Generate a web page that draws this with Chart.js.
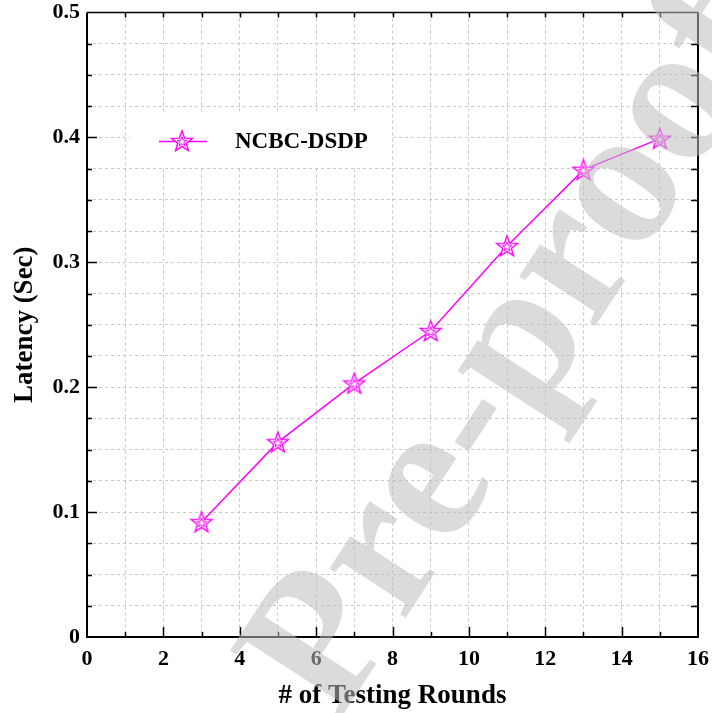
<!DOCTYPE html>
<html>
<head>
<meta charset="utf-8">
<script src="https://cdn.jsdelivr.net/npm/chart.js@4.4.0/dist/chart.umd.min.js"></script>
<style>
  html, body { margin: 0; padding: 0; background: #fff; }
  #wrap { width: 712px; height: 713px; }
</style>
</head>
<body>
<div id="wrap"><canvas id="latencyChart" width="712" height="713"></canvas></div>
<script>
// latency per number of testing rounds
const rounds = [3, 5, 7, 9, 11, 13, 15];
const latency = [0.092, 0.156, 0.203, 0.245, 0.313, 0.374, 0.399];
const seriesName = "NCBC-DSDP";

const xTickValues = [0, 2, 4, 6, 8, 10, 12, 14, 16];
const xTickLabels = ["0", "2", "4", "6", "8", "10", "12", "14", "16"];
const yTickValues = [0, 0.1, 0.2, 0.3, 0.4, 0.5];
const yTickLabels = ["0", "0.1", "0.2", "0.3", "0.4", "0.5"];

const xTitle = "# of Testing Rounds";
const yTitle = "Latency (Sec)";
const stamp = "Pre-proof";

const MAGENTA = "#ff00ff";
const SERIF = "'Liberation Serif', 'Times New Roman', serif";

function starPath(g, cx, cy, R, r) {
  g.beginPath();
  for (let i = 0; i < 10; i++) {
    const rad = i % 2 ? r : R;
    const a = -Math.PI / 2 + i * Math.PI / 5;
    const px = cx + rad * Math.cos(a), py = cy + rad * Math.sin(a);
    if (i) g.lineTo(px, py); else g.moveTo(px, py);
  }
  g.closePath();
}

// open star marker with a small star inside
function makeStar() {
  const c = document.createElement("canvas");
  c.width = c.height = 26;
  const g = c.getContext("2d");
  g.strokeStyle = MAGENTA;
  g.lineWidth = 1.4;
  starPath(g, 13, 13.8, 11, 4.5);
  g.fillStyle = "#fff";
  g.fill();
  g.stroke();
  starPath(g, 13, 13.8, 5, 2);
  g.lineWidth = 1;
  g.stroke();
  return c;
}
const starImg = makeStar();

function findLabel(values, labels, v) {
  const i = values.findIndex(t => Math.abs(t - v) < 1e-6);
  return i >= 0 ? labels[i] : "";
}

// inline legend, axes frame with inward ticks, and the diagonal stamp
const decorations = {
  id: "decorations",
  beforeDatasetsDraw(chart) {
    const ctx = chart.ctx;
    ctx.save();
    ctx.fillStyle = "#fff";
    ctx.fillRect(130, 113, 262, 54);
    ctx.strokeStyle = MAGENTA;
    ctx.lineWidth = 1.5;
    ctx.beginPath();
    ctx.moveTo(159, 141.5);
    ctx.lineTo(207, 141.5);
    ctx.stroke();
    ctx.drawImage(starImg, 182 - 13, 141 - 13);
    ctx.fillStyle = "#000";
    ctx.font = "bold 23px " + SERIF;
    ctx.textBaseline = "middle";
    ctx.fillText(seriesName, 235, 142);
    ctx.restore();
  },
  afterDraw(chart) {
    const ctx = chart.ctx;
    const { left, right, top, bottom } = chart.chartArea;
    const xs = chart.scales.x, ys = chart.scales.y;
    ctx.save();
    ctx.strokeStyle = "#000";

    // ticks along each side
    ctx.lineWidth = 1.5;
    ctx.beginPath();
    for (let v = 1; v < 16; v++) {
      const px = Math.round(xs.getPixelForValue(v)) + 0.5;
      const len = v % 2 === 0 ? 10 : 5;
      ctx.moveTo(px, bottom);
      ctx.lineTo(px, bottom - len);
      ctx.moveTo(px, top);
      ctx.lineTo(px, top + 5);
    }
    for (let k = 1; k < 20; k++) {
      const py = Math.round(ys.getPixelForValue(k * 0.025)) + 0.5;
      const len = k % 4 === 0 ? 10 : 5;
      ctx.moveTo(left, py);
      ctx.lineTo(left + len, py);
      ctx.moveTo(right, py);
      ctx.lineTo(right - 7, py);
    }
    ctx.stroke();

    // frame
    ctx.lineWidth = 2;
    ctx.beginPath();
    ctx.moveTo(left, top);
    ctx.lineTo(left, bottom);
    ctx.lineTo(right, bottom);
    ctx.lineTo(right, top);
    ctx.stroke();
    ctx.lineWidth = 1.5;
    ctx.beginPath();
    ctx.moveTo(left, top);
    ctx.lineTo(right, top);
    ctx.stroke();

    // stamp across the figure
    ctx.translate(337, 724);
    ctx.rotate(-57 * Math.PI / 180);
    ctx.font = "bold 198px " + SERIF;
    ctx.fillStyle = "rgba(190, 190, 190, 0.55)";
    ctx.textBaseline = "alphabetic";
    ctx.fillText(stamp, 0, 0);
    ctx.restore();
  }
};

const tickFont = { family: SERIF, size: 22, weight: "bold" };
const titleFont = { family: SERIF, size: 27, weight: "bold" };

new Chart(document.getElementById("latencyChart"), {
  type: "line",
  data: {
    datasets: [{
      label: seriesName,
      data: rounds.map((x, i) => ({ x: x, y: latency[i] })),
      borderColor: MAGENTA,
      borderWidth: 1.5,
      pointStyle: starImg,
      pointRadius: 11,
      tension: 0,
      fill: false
    }]
  },
  options: {
    responsive: false,
    animation: false,
    devicePixelRatio: 1,
    layout: { padding: { top: 10, right: 14, left: 0, bottom: 0 } },
    plugins: { legend: { display: false }, tooltip: { enabled: false } },
    scales: {
      x: {
        type: "linear",
        min: 0,
        max: 16,
        afterFit: s => {
          s.height = 76;
          s.paddingLeft = 0;
          s.paddingRight = 0;
        },
        ticks: {
          stepSize: 1,
          autoSkip: false,
          maxRotation: 0,
          padding: 9,
          color: "#000",
          font: tickFont,
          callback: v => findLabel(xTickValues, xTickLabels, v)
        },
        grid: { color: "#c8c8c8", lineWidth: 1, drawTicks: false },
        border: { display: false, dash: [3, 3] },
        title: { display: true, text: xTitle, color: "#000", font: titleFont, padding: { top: 0, bottom: 1 } }
      },
      y: {
        min: 0,
        max: 0.5,
        afterFit: s => {
          s.width = 87;
          s.paddingTop = 0;
          s.paddingBottom = 0;
        },
        ticks: {
          stepSize: 0.025,
          autoSkip: false,
          padding: 7,
          color: "#000",
          font: tickFont,
          callback: v => findLabel(yTickValues, yTickLabels, v)
        },
        grid: { color: "#c8c8c8", lineWidth: 1, drawTicks: false },
        border: { display: false, dash: [3, 3] },
        title: { display: true, text: yTitle, color: "#000", font: titleFont, padding: { top: 9, bottom: 0 } }
      }
    }
  },
  plugins: [decorations]
});
</script>
</body>
</html>
